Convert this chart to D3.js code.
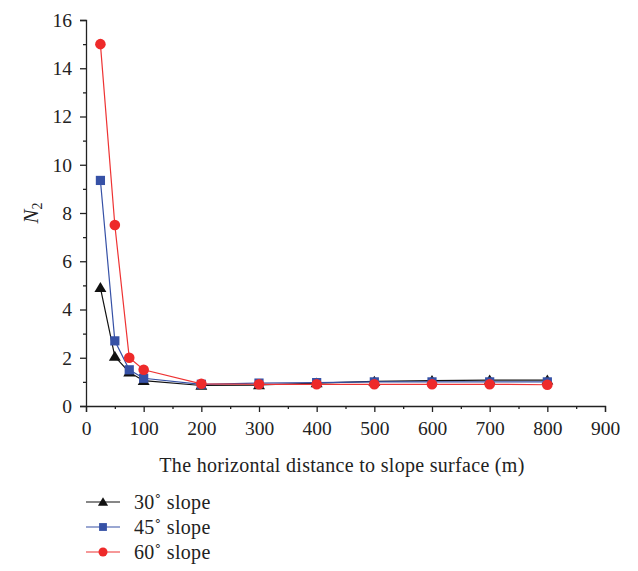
<!DOCTYPE html>
<html><head><meta charset="utf-8">
<script src="https://cdn.jsdelivr.net/npm/d3@7/dist/d3.min.js"></script>
<style>body{margin:0;background:#fff}svg{display:block}text{font-family:"Liberation Serif","DejaVu Serif",serif;fill:#222}</style>
</head><body><svg id="c" width="638" height="571"></svg>
<script>
const xValues = [25, 50, 75, 100, 200, 300, 400, 500, 600, 700, 800];
const s30 = [4.9, 2.05, 1.4, 1.05, 0.85, 0.87, 0.95, 1.02, 1.05, 1.07, 1.07];
const s45 = [9.35, 2.7, 1.5, 1.15, 0.9, 0.95, 0.97, 1.0, 1.0, 1.0, 1.0];
const s60 = [15.0, 7.5, 2.0, 1.5, 0.92, 0.9, 0.9, 0.9, 0.9, 0.9, 0.88];
const seriesNames = ["30\u02da slope", "45\u02da slope", "60\u02da slope"];
const xTicks = [0,100,200,300,400,500,600,700,800,900];
const yTicks = [0,2,4,6,8,10,12,14,16];

const svg = d3.select("#c");
const L = 86, R = 605, T = 20, B = 406;
const x = d3.scaleLinear().domain([0, 900]).range([L, R]);
const y = d3.scaleLinear().domain([0, 16]).range([B, T]);
const FF = "'Liberation Serif', 'DejaVu Serif', serif";

svg.append("g").attr("transform", `translate(0,${B})`)
  .call(d3.axisBottom(x).tickValues(xTicks).tickSize(6).tickPadding(9).tickFormat(d3.format("d")))
  .attr("font-family", FF);
svg.append("g").attr("transform", `translate(0,${B})`)
  .call(d3.axisBottom(x).tickValues(d3.range(50, 900, 100)).tickSize(3).tickFormat(""))
  .select(".domain").remove();
svg.append("g").attr("transform", `translate(${L},0)`)
  .call(d3.axisLeft(y).tickValues(yTicks).tickSize(6).tickPadding(8).tickFormat(d3.format("d")))
  .attr("font-family", FF);
svg.append("g").attr("transform", `translate(${L},0)`)
  .call(d3.axisLeft(y).tickValues(d3.range(1, 16, 2)).tickSize(3).tickFormat(""))
  .select(".domain").remove();
svg.selectAll(".domain").attr("stroke", "#222").attr("stroke-width", 1.3);
svg.selectAll(".tick line").attr("stroke", "#222").attr("stroke-width", 1.3);
svg.selectAll(".tick text").attr("font-size", 19.5).attr("font-family", FF).attr("fill", "#222");

svg.append("text").attr("x", 342).attr("y", 472).attr("text-anchor", "middle")
  .attr("font-size", 20).attr("letter-spacing", 0.3).text("The horizontal distance to slope surface (m)");
const yl = svg.append("text").attr("transform", "translate(38,213) rotate(-90)").attr("text-anchor", "middle").attr("font-size", 21);
yl.append("tspan").attr("font-style", "italic").text("N");
yl.append("tspan").attr("font-size", 14).attr("dy", 4).text("2");

const colors = ["#111111", "#3651a6", "#ee2a2a"];
const lineColors = ["#111111", "#3651a6", "#ee3333"];
const data = [s30, s45, s60];
const line = d3.line().x((d, i) => x(xValues[i])).y(d => y(d));

function marker(g, k, cx, cy, scale) {
  scale = scale || 1;
  if (k === 0) {
    const s = 5.7 * scale;
    g.append("path").attr("d", `M${cx},${cy - s}L${cx + s * 1.05},${cy + s * 0.75}L${cx - s * 1.05},${cy + s * 0.75}Z`).attr("fill", colors[0]);
  } else if (k === 1) {
    const s = 4.6 * scale;
    g.append("rect").attr("x", cx - s).attr("y", cy - s).attr("width", 2 * s).attr("height", 2 * s).attr("fill", colors[1]);
  } else {
    g.append("circle").attr("cx", cx).attr("cy", cy).attr("r", 5.3 * scale).attr("fill", colors[2]);
  }
}

data.forEach((s, k) => {
  const g = svg.append("g");
  g.append("path").datum(s).attr("d", line).attr("fill", "none").attr("stroke", lineColors[k]).attr("stroke-width", 1.2);
  s.forEach((v, i) => marker(g, k, x(xValues[i]), y(v)));
});

const legY = [502, 527, 552];
seriesNames.forEach((n, k) => {
  const g = svg.append("g");
  g.append("line").attr("x1", 86).attr("x2", 120).attr("y1", legY[k]).attr("y2", legY[k]).attr("stroke", lineColors[k]).attr("stroke-width", 1.2);
  marker(g, k, 103, legY[k], 0.85);
  g.append("text").attr("x", 134).attr("y", legY[k] + 7).attr("font-size", 20).attr("letter-spacing", 0.3).text(n);
});
</script></body></html>
